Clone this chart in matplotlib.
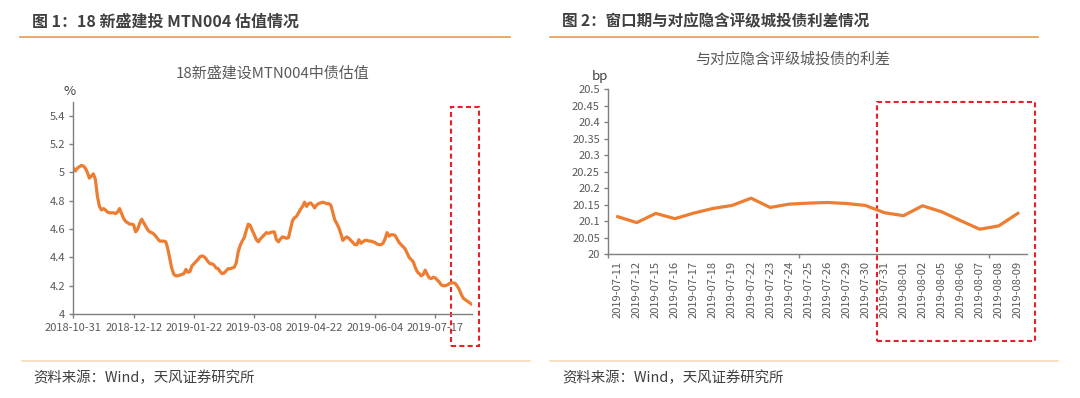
import matplotlib
matplotlib.use("Agg")
import matplotlib.pyplot as plt
from matplotlib.patches import Rectangle
from matplotlib.lines import Line2D
from matplotlib.ticker import FixedLocator, FuncFormatter

plt.rcParams['font.family'] = ['Noto Sans CJK SC', 'DejaVu Sans']

# 图1：18新盛建设MTN004中债估值（%），按交易日
val_left = [
    5.03, 5.01, 5.03, 5.04, 5.05, 5.045, 5.03, 5.00, 4.96, 4.975,
    4.99, 4.95, 4.83, 4.76, 4.735, 4.745, 4.735, 4.72, 4.715, 4.715,
    4.715, 4.71, 4.72, 4.745, 4.71, 4.675, 4.655, 4.645, 4.635, 4.635,
    4.63, 4.58, 4.60, 4.64, 4.67, 4.645, 4.62, 4.595, 4.58, 4.575,
    4.565, 4.55, 4.53, 4.515, 4.515, 4.515, 4.51, 4.46, 4.39, 4.32,
    4.28, 4.27, 4.27, 4.275, 4.28, 4.285, 4.315, 4.295, 4.30, 4.34,
    4.355, 4.37, 4.385, 4.405, 4.41, 4.405, 4.39, 4.37, 4.355, 4.355,
    4.345, 4.325, 4.32, 4.30, 4.285, 4.29, 4.305, 4.32, 4.32, 4.325,
    4.33, 4.36, 4.44, 4.485, 4.515, 4.54, 4.59, 4.635, 4.625, 4.59,
    4.56, 4.525, 4.51, 4.53, 4.545, 4.56, 4.575, 4.57, 4.575, 4.58,
    4.58, 4.525, 4.51, 4.53, 4.545, 4.54, 4.535, 4.54, 4.60, 4.66,
    4.68, 4.69, 4.715, 4.74, 4.76, 4.79, 4.76, 4.78, 4.785, 4.77,
    4.75, 4.77, 4.78, 4.785, 4.79, 4.785, 4.78, 4.78, 4.77, 4.72,
    4.665, 4.64, 4.61, 4.57, 4.52, 4.535, 4.545, 4.535, 4.52, 4.505,
    4.49, 4.49, 4.525, 4.50, 4.51, 4.52, 4.52, 4.515, 4.515, 4.51,
    4.505, 4.495, 4.49, 4.49, 4.50, 4.53, 4.575, 4.55, 4.56, 4.56,
    4.555, 4.53, 4.505, 4.49, 4.475, 4.46, 4.43, 4.40, 4.385, 4.37,
    4.33, 4.30, 4.285, 4.27, 4.28, 4.31, 4.28, 4.255, 4.25, 4.26,
    4.255, 4.24, 4.225, 4.205, 4.20, 4.20, 4.205, 4.215, 4.22, 4.22,
    4.215, 4.195, 4.17, 4.135, 4.11, 4.10, 4.09, 4.08, 4.07,
]
ticks_left = ['2018-10-31', '2018-12-12', '2019-01-22', '2019-03-08',
              '2019-04-22', '2019-06-04', '2019-07-17']

# 图2：与对应隐含评级城投债的利差（bp）
dates_right = ['2019-07-11', '2019-07-12', '2019-07-15', '2019-07-16', '2019-07-17',
               '2019-07-18', '2019-07-19', '2019-07-22', '2019-07-23', '2019-07-24',
               '2019-07-25', '2019-07-26', '2019-07-29', '2019-07-30', '2019-07-31',
               '2019-08-01', '2019-08-02', '2019-08-05', '2019-08-06', '2019-08-07',
               '2019-08-08', '2019-08-09']
val_right = [20.114, 20.096, 20.124, 20.108, 20.125, 20.139, 20.148, 20.170,
             20.142, 20.152, 20.155, 20.157, 20.154, 20.148, 20.126, 20.117,
             20.147, 20.129, 20.102, 20.076, 20.086, 20.124]

ORANGE = '#ED7D31'
RED = '#E8202A'
GREY = '#595959'
SPINE = '#7F7F7F'

W, H = 1080, 398
fig = plt.figure(figsize=(W / 100, H / 100), dpi=100)

# headers and footers
fig.text(32 / W, 1 - 21.7 / H, '图 1：18 新盛建投 MTN004 估值情况',
         fontsize=11.5, fontweight='bold', color='#404040', va='center')
fig.text(562 / W, 1 - 21.7 / H, '图 2：窗口期与对应隐含评级城投债利差情况',
         fontsize=11.2, fontweight='bold', color='#404040', va='center')
for x0, x1 in [(20, 510), (550, 1038)]:
    fig.add_artist(Line2D([x0 / W, x1 / W], [1 - 37.3 / H] * 2,
                          color='#E59B52', lw=1.2))
for x0, x1 in [(22, 530), (550, 1058)]:
    fig.add_artist(Line2D([x0 / W, x1 / W], [1 - 360.7 / H] * 2,
                          color='#F8D9B5', lw=1.2))
for x0 in [33, 562]:
    fig.text(x0 / W, 1 - 378 / H, '资料来源：Wind，天风证券研究所',
             fontsize=10.4, color='#404040', va='center')

# chart titles
fig.text(272.8 / W, 1 - 73.3 / H, '18新盛建设MTN004中债估值',
         fontsize=10.8, color=GREY, ha='center', va='center')
fig.text(793 / W, 1 - 60 / H, '与对应隐含评级城投债的利差',
         fontsize=10.8, color=GREY, ha='center', va='center')

# left chart
ax1 = fig.add_axes([73.3 / W, 1 - 314 / H, (471.5 - 73.3) / W, (314 - 101.7) / H])
ax1.plot(range(len(val_left)), val_left, color=ORANGE, lw=2.3, solid_joinstyle='round')
ax1.set_xlim(0, len(val_left) - 1)
ax1.set_ylim(4, 5.5)
ax1.set_yticks([4, 4.2, 4.4, 4.6, 4.8, 5, 5.2, 5.4])
ax1.yaxis.set_major_formatter(FuncFormatter(lambda v, p: f'{v:g}'))
ax1.set_xticks(range(0, 30 * len(ticks_left), 30))
ax1.set_xticklabels(ticks_left)
ax1.text(-0.01, 1.05, '%', transform=ax1.transAxes, ha='center', va='center',
         fontsize=9.5, color='#404040')
ax1.add_patch(Rectangle((187.8, 3.774), 13.8, 1.691, fill=False, ec=RED, lw=1.5,
                        ls=(0, (2.4, 1.6)), clip_on=False))

# right chart
ax2 = fig.add_axes([608.2 / W, 1 - 254.3 / H, (1027.3 - 608.2) / W, 165 / H])
ax2.plot(range(len(val_right)), val_right, color=ORANGE, lw=2.3, solid_joinstyle='round')
ax2.set_xlim(-0.5, len(val_right) - 0.5)
ax2.set_ylim(20, 20.5)
ax2.set_yticks([20 + 0.05 * i for i in range(11)])
ax2.yaxis.set_major_formatter(FuncFormatter(lambda v, p: f'{round(v, 2):g}'))
ax2.xaxis.set_major_locator(FixedLocator([-0.5, 9.5, 19.5]))
ax2.xaxis.set_major_formatter(FuncFormatter(lambda v, p: ''))
ax2.set_xticks(range(len(dates_right)), minor=True)
ax2.set_xticklabels(dates_right, minor=True, rotation=90)
ax2.text(-0.02, 1.08, 'bp', transform=ax2.transAxes, ha='center', va='center',
         fontsize=9.5, color='#404040')
ax2.add_patch(Rectangle((13.61, 19.737), 8.28, 0.7254, fill=False, ec=RED, lw=1.5,
                        ls=(0, (2.4, 1.6)), clip_on=False))

for ax in (ax1, ax2):
    for s in ('top', 'right'):
        ax.spines[s].set_visible(False)
    for s in ('left', 'bottom'):
        ax.spines[s].set_color(SPINE)
        ax.spines[s].set_linewidth(1.0)
    ax.tick_params(axis='both', which='both', colors=GREY, labelsize=8, direction='out')
    ax.tick_params(axis='both', which='major', length=3, width=1.0, color=SPINE)
    ax.tick_params(axis='x', which='minor', length=0, pad=5)
    ax.tick_params(axis='y', pad=3)

fig.savefig('out.png', dpi=100)
